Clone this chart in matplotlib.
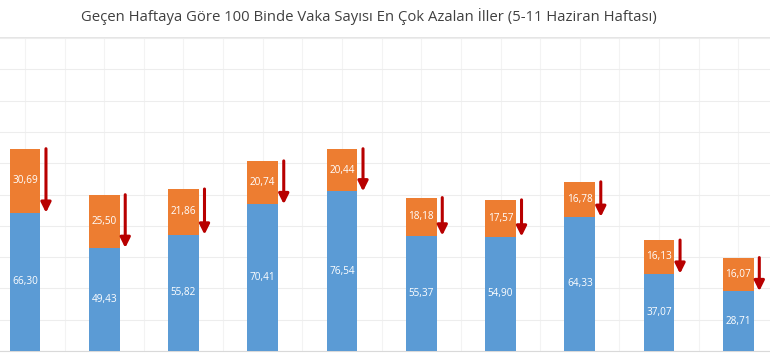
import matplotlib
matplotlib.use("Agg")
import matplotlib.pyplot as plt
import numpy as np

title = "Geçen Haftaya Göre 100 Binde Vaka Sayısı En Çok Azalan İller (5-11 Haziran Haftası)"
# cumulative 100k case rate this week (blue) and decrease vs last week (orange)
this_week = [66.30, 49.43, 55.82, 70.41, 76.54, 55.37, 54.90, 64.33, 37.07, 28.71]
decrease = [30.69, 25.50, 21.86, 20.74, 20.44, 18.18, 17.57, 16.78, 16.13, 16.07]

blue = "#5B9BD5"
orange = "#ED7D31"
red = "#B80000"

plt.rcParams['font.family'] = ['Open Sans', 'DejaVu Sans']

fig = plt.figure(figsize=(7.7, 3.6), dpi=100)
ax = fig.add_axes([0, 0.025, 1, 0.869])

x = np.arange(len(this_week))
base = np.array(this_week)
top = base + np.array(decrease)
w = 0.39

ax.bar(x, this_week, w, color=blue, zorder=3)
ax.bar(x, decrease, w, bottom=this_week, color=orange, zorder=3)

for xi, b, d, t in zip(x, this_week, decrease, top):
    ax.text(xi, b / 2, f"{b:.2f}".replace(".", ","), ha="center", va="center",
            color="white", fontsize=7.2, zorder=4)
    ax.text(xi, b + d / 2, f"{d:.2f}".replace(".", ","), ha="center", va="center",
            color="white", fontsize=7.2, zorder=4)
    ax.annotate("", xy=(xi + 0.265, b), xytext=(xi + 0.265, t),
                arrowprops=dict(arrowstyle="-|>,head_length=0.6,head_width=0.3",
                                color=red, lw=2.2, shrinkA=0, shrinkB=0), zorder=4)

ax.set_yticks(np.arange(0, 151, 15))
ax.set_xticks(np.arange(-0.5, 10, 0.5))
ax.set_xlim(-0.315, 9.40)
ax.set_ylim(0, 150)
ax.grid(axis="y", color="#EDEDED", lw=0.8, zorder=0)
ax.grid(axis="x", color="#F3F3F3", lw=0.8, zorder=0)
ax.tick_params(length=0, labelbottom=False, labelleft=False)
for s in ["left", "right", "top"]:
    ax.spines[s].set_visible(False)
ax.spines["bottom"].set_color("#D9D9D9")
ax.axhline(150, color="#E0E0E0", lw=1.2, zorder=1, clip_on=False)

fig.text(0.479, 0.953, title, ha="center", va="center", fontsize=10.7, color="#404040")

fig.savefig("out.png", dpi=100)
